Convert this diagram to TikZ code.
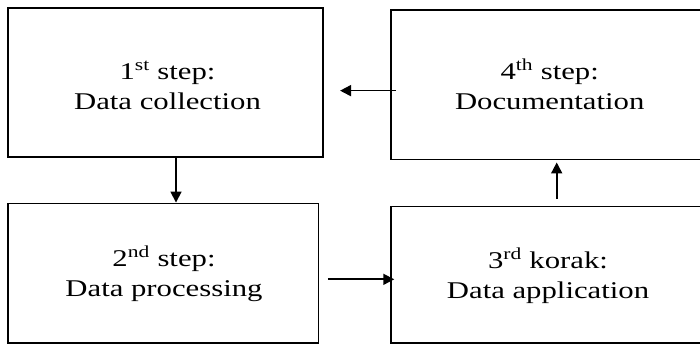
\documentclass[tikz,border=0pt]{standalone}
\usepackage{fontspec}
\usetikzlibrary{arrows.meta,calc}
\newfontfamily\boxfont[FakeStretch=1.28]{Liberation Serif}
\begin{document}
\begin{tikzpicture}[x=1pt,y=1pt,
  stepbox/.style={draw=black,line width=1.5pt,rectangle,inner sep=0pt},
  steptext/.style={align=center,anchor=base,inner sep=0pt,
    font=\boxfont\fontsize{24}{30}\selectfont},
  arr/.style={draw=black,line width=1.7pt,-{Triangle[length=11pt,width=11pt]}}]
  \useasboundingbox (0,0) rectangle (700,344);
  % step boxes
  \node[stepbox,minimum width=315pt,minimum height=149pt]   (n1) at (165.5,261.5) {};
  \node[stepbox,minimum width=317pt,minimum height=149.3pt] (n4) at (549.5,259.35) {};
  \node[stepbox,minimum width=310.3pt,minimum height=139.7pt] (n2) at (163.2,70.85) {};
  \node[stepbox,minimum width=314pt,minimum height=136.3pt] (n3) at (548,69.2) {};
  % labels (anchored on the baseline of the second line)
  \node[steptext] (t1) at (167.5,234.5) {1\textsuperscript{st} step:\\Data collection};
  \node[steptext] (t4) at (549.7,234) {4\textsuperscript{th} step:\\Documentation};
  \node[steptext] (t2) at (164,47) {2\textsuperscript{nd} step:\\Data processing};
  \node[steptext] (t3) at (548,45) {3\textsuperscript{rd} korak:\\Data application};
  % connectors
  \coordinate (p12) at ([xshift=10.5]n1.south);
  \draw[arr] (p12) -- (p12 |- n2.north);
  \coordinate (p23) at ([shift={(8.7,-6.2)}]n2.east);
  \draw[arr,shorten >=-4pt] (p23) -- (n3.west |- p23);
  \coordinate (p34) at ([shift={(8.7,6.7)}]n3.north);
  \draw[arr,shorten >=2.4pt] (p34) -- (p34 |- n4.south);
  \coordinate (p41) at ([shift={(5.7,-6)}]n4.west);
  \draw[arr,shorten >=16.3pt] (p41) -- (n1.east |- p41);
\end{tikzpicture}
\end{document}
